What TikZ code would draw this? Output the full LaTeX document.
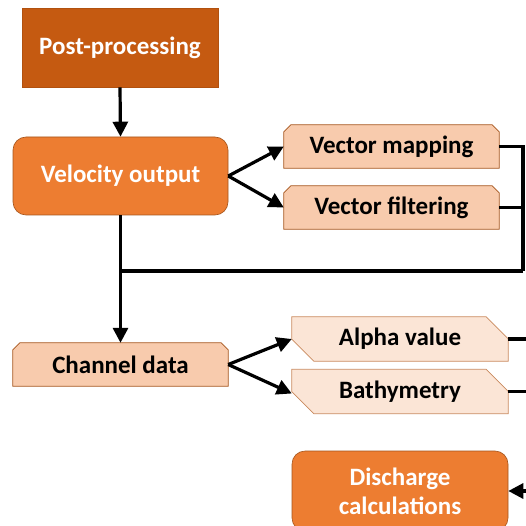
\documentclass[tikz,border=0pt]{standalone}
\usepackage{fontspec}
\setmainfont{Carlito}
\usetikzlibrary{arrows.meta,backgrounds}

\definecolor{darkorange}{HTML}{C55A11}
\definecolor{midorange}{HTML}{ED7D31}
\definecolor{paleorange}{HTML}{F8CBAD}
\definecolor{lightorange}{HTML}{FBE5D6}
\definecolor{edgebrown}{HTML}{A5541B}
\definecolor{softedge}{HTML}{C98A5E}

\tikzset{
  box/.style={minimum width=#1, inner sep=0pt, font=\bfseries\fontsize{25}{30}\selectfont},
  darkbox/.style={box=196pt, minimum height=79pt, fill=darkorange, draw=darkorange!90!black, line width=0.6pt, text=white},
  roundbox/.style={box=215pt, minimum height=78pt, fill=midorange, draw=edgebrown, line width=0.6pt,
                   rounded corners=13pt, text=white, align=center},
  tagbox/.style={box=215pt, minimum height=43pt, text=black},
  flag/.style={box=216pt, minimum height=44pt, text=black},
  snipfill/.style={fill=paleorange, draw=edgebrown, line width=0.7pt},
  flagfill/.style={fill=lightorange, draw=softedge, line width=0.7pt},
  conn/.style={line width=3.2pt, black},
  arr/.style={conn, -{Triangle[length=15pt,width=15pt]}},
}

\begin{document}
\begin{tikzpicture}[x=1pt,y=-1pt]
  \useasboundingbox (0,0) rectangle (526,526);
  \clip (0,0) rectangle (526,526);

  % main blocks
  \node[darkbox]  (post)  at (120,47.5)  {Post-processing};
  \node[roundbox] (vel)   at (120.5,176) {Velocity output};
  \node[tagbox]   (vmap)  at (391.5,146.5) {Vector mapping};
  \node[tagbox]   (vfil)  at (391.5,207.5) {Vector filtering};
  \node[tagbox]   (chan)  at (120.5,364.5) {Channel data};
  \node[flag]     (alpha) at (400,339)   {Alpha value};
  \node[flag]     (bath)  at (400,391.5) {Bathymetry};
  \node[roundbox, minimum width=216pt, minimum height=80pt] (disch) at (400,491)
       {Discharge\\[-1pt]calculations};

  % outlines with snipped corners, drawn behind the labels
  \begin{pgfonlayer}{background}
    \foreach \n in {vmap,vfil,chan}{
      \path[snipfill]
        ([yshift=-7pt]\n.north west) -- ([xshift=7pt]\n.north west)
        -- ([xshift=-7pt]\n.north east) -- ([yshift=-7pt]\n.north east)
        -- (\n.south east) -- (\n.south west) -- cycle;
    }
    \foreach \n in {alpha,bath}{
      \path[flagfill]
        (\n.north west) -- ([xshift=-22pt]\n.north east)
        -- ([yshift=-22pt]\n.north east) -- (\n.south east)
        -- ([xshift=22pt]\n.south west) -- ([yshift=22pt]\n.south west) -- cycle;
    }
  \end{pgfonlayer}

  % connectors
  \coordinate (rail)  at (523,271);
  \coordinate (join)  at (120.5,271);
  \coordinate (edgeA) at (526,339);
  \coordinate (edgeB) at (526,391.5);
  \coordinate (edgeD) at (526,491);

  \draw[arr] (post.south) -- (vel.north);
  \draw[arr] (vel.east) -- (vmap.west);
  \draw[arr] (vel.east) -- (vfil.west);
  \draw[conn] (vmap.east) -| (rail);
  \draw[conn] (vfil.east) -| (rail);
  \draw[conn] (rail) -- (join);
  \draw[arr] (vel.south) -- (chan.north);
  \draw[arr] (chan.east) -- (alpha.west);
  \draw[arr] (chan.east) -- ([yshift=-2pt]bath.west);
  \draw[conn] (alpha.east) -- (edgeA);
  \draw[conn] (bath.east) -- (edgeB);
  \draw[arr] (edgeD) -- (disch.east);
\end{tikzpicture}
\end{document}
